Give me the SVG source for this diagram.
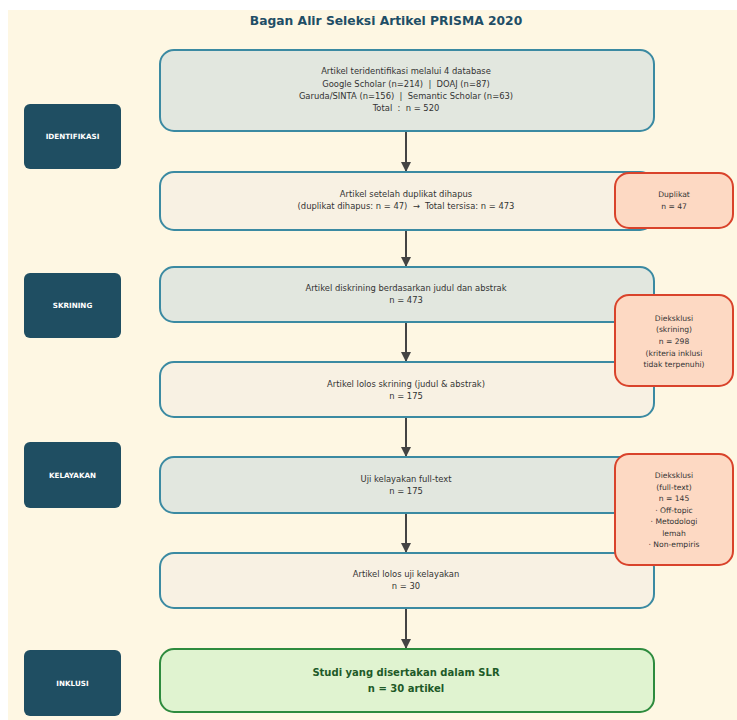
<svg xmlns="http://www.w3.org/2000/svg" width="737" height="720" viewBox="0 0 737 720">
<defs>
<marker id="ah" viewBox="0 0 10 10" refX="9" refY="5" markerWidth="5" markerHeight="5" orient="auto" markerUnits="strokeWidth">
<path d="M0,0 L10,5 L0,10 z" fill="#444"/>
</marker>
<style>
text{font-family:"DejaVu Sans","Liberation Sans",sans-serif;text-anchor:middle;white-space:pre}
.main{stroke:#3b8aa2;stroke-width:2}
.g{fill:#e2e7df}
.c{fill:#f8f1e3}
.t{font-size:8.4px;fill:#333}
.ex{fill:#fdd9c3;stroke:#d9432b;stroke-width:2}
.et{font-size:7.6px;fill:#333}
.lab{fill:#1f4e62}
.lt{font-size:7.2px;font-weight:bold;fill:#ffffff}
.arr{stroke:#444;stroke-width:2;fill:none;marker-end:url(#ah)}
.fin{font-size:10px;font-weight:bold;fill:#1e5a28}
</style>
</defs>
<rect width="737" height="720" fill="#ffffff"/>
<rect x="8" y="10" width="729" height="710" fill="#fef7e3"/>
<text x="386" y="25" style="font-size:12.3px;font-weight:bold;fill:#1f4e66">Bagan Alir Seleksi Artikel PRISMA 2020</text>

<g id="connectors">
<line class="arr" x1="406" y1="131" x2="406" y2="171"/>
<line class="arr" x1="406" y1="230" x2="406" y2="266"/>
<line class="arr" x1="406" y1="322" x2="406" y2="361"/>
<line class="arr" x1="406" y1="417" x2="406" y2="456"/>
<line class="arr" x1="406" y1="513" x2="406" y2="552"/>
<line class="arr" x1="406" y1="608" x2="406" y2="648"/>
</g>

<g id="lab-identifikasi"><rect class="lab" x="24" y="104" width="97" height="65" rx="6"/><text class="lt" x="72.5" y="139">IDENTIFIKASI</text></g>
<g id="lab-skrining"><rect class="lab" x="24" y="273" width="97" height="65" rx="6"/><text class="lt" x="72.5" y="308">SKRINING</text></g>
<g id="lab-kelayakan"><rect class="lab" x="24" y="442" width="97" height="66" rx="6"/><text class="lt" x="72.5" y="478">KELAYAKAN</text></g>
<g id="lab-inklusi"><rect class="lab" x="24" y="650" width="97" height="66" rx="6"/><text class="lt" x="72.5" y="686">INKLUSI</text></g>

<g id="n1"><rect class="main g" x="160" y="50" width="494" height="81" rx="14"/>
<text class="t" x="406" y="74">Artikel teridentifikasi melalui 4 database</text>
<text class="t" x="406" y="87">Google Scholar (n=214)  |  DOAJ (n=87)</text>
<text class="t" x="406" y="99">Garuda/SINTA (n=156)  |  Semantic Scholar (n=63)</text>
<text class="t" x="406" y="111">Total  :  n = 520</text></g>

<g id="n2"><rect class="main c" x="160" y="172" width="494" height="58" rx="14"/>
<text class="t" x="406" y="197">Artikel setelah duplikat dihapus</text>
<text class="t" x="406" y="209">(duplikat dihapus: n = 47)  →  Total tersisa: n = 473</text></g>

<g id="n3"><rect class="main g" x="160" y="267" width="494" height="55" rx="14"/>
<text class="t" x="406" y="291">Artikel diskrining berdasarkan judul dan abstrak</text>
<text class="t" x="406" y="303">n = 473</text></g>

<g id="n4"><rect class="main c" x="160" y="362" width="494" height="55" rx="14"/>
<text class="t" x="406" y="387">Artikel lolos skrining (judul &amp; abstrak)</text>
<text class="t" x="406" y="399">n = 175</text></g>

<g id="n5"><rect class="main g" x="160" y="457" width="494" height="56" rx="14"/>
<text class="t" x="406" y="482">Uji kelayakan full-text</text>
<text class="t" x="406" y="494">n = 175</text></g>

<g id="n6"><rect class="main c" x="160" y="553" width="494" height="55" rx="14"/>
<text class="t" x="406" y="577">Artikel lolos uji kelayakan</text>
<text class="t" x="406" y="589">n = 30</text></g>

<g id="n7"><rect x="160" y="649" width="494" height="63" rx="14" fill="#e0f3d0" stroke="#2e8b3e" stroke-width="2"/>
<text class="fin" x="406" y="676">Studi yang disertakan dalam SLR</text>
<text class="fin" x="406" y="692">n = 30 artikel</text></g>

<g id="x1"><rect class="ex" x="615" y="173" width="118" height="55" rx="14"/>
<text class="et" x="674" y="197">Duplikat</text>
<text class="et" x="674" y="209">n = 47</text></g>

<g id="x2"><rect class="ex" x="615" y="295" width="118" height="91" rx="14"/>
<text class="et" x="674" y="321">Dieksklusi</text>
<text class="et" x="674" y="332">(skrining)</text>
<text class="et" x="674" y="344">n = 298</text>
<text class="et" x="674" y="356">(kriteria inklusi</text>
<text class="et" x="674" y="367">tidak terpenuhi)</text></g>

<g id="x3"><rect class="ex" x="615" y="454" width="118" height="111" rx="14"/>
<text class="et" x="674" y="478">Dieksklusi</text>
<text class="et" x="674" y="490">(full-text)</text>
<text class="et" x="674" y="501">n = 145</text>
<text class="et" x="674" y="513">· Off-topic</text>
<text class="et" x="674" y="524">· Metodologi</text>
<text class="et" x="674" y="536">lemah</text>
<text class="et" x="674" y="547">· Non-empiris</text></g>
</svg>
